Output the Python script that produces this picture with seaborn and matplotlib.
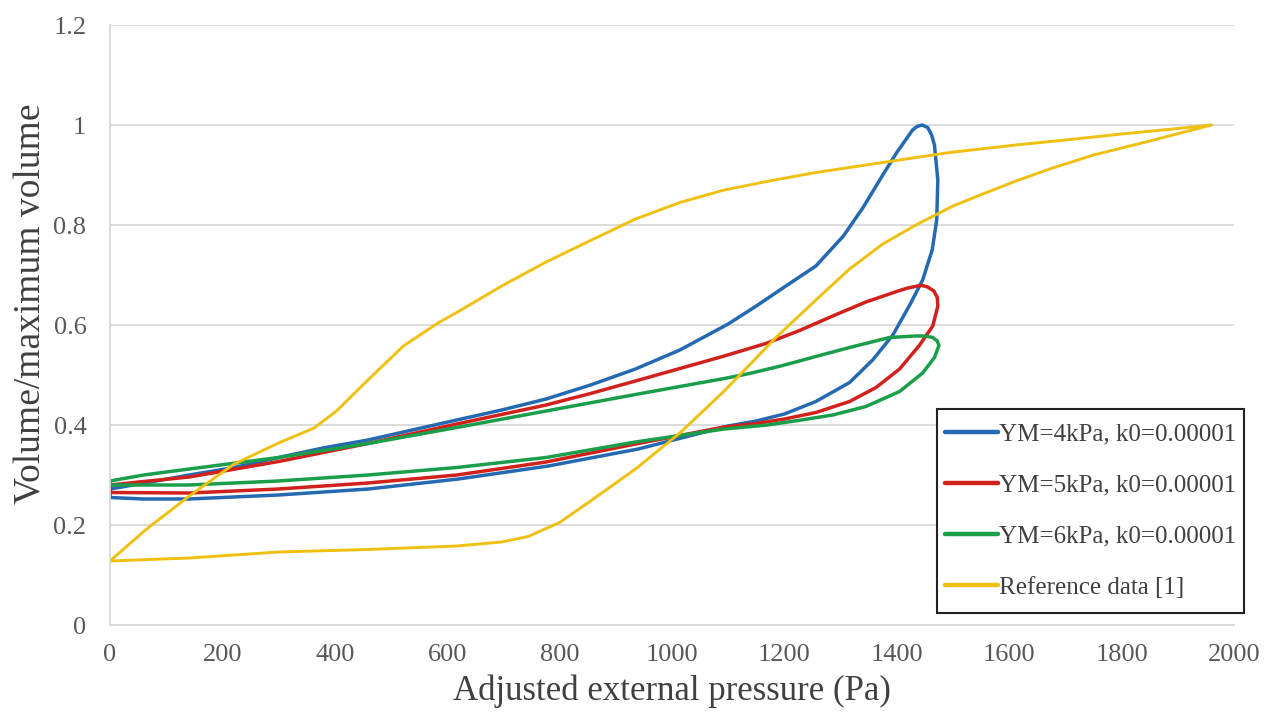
import numpy as np
import pandas as pd
import matplotlib
matplotlib.use("Agg")
import matplotlib.pyplot as plt
from matplotlib.patches import Rectangle
import seaborn as sns

# Pressure-volume loops (closed paths, listed in drawing order)
ym4_pressure = [0, 60, 140, 300, 460, 620, 780, 940, 1020, 1100, 1150, 1200, 1256, 1316, 1357,
                1393, 1423, 1446, 1463, 1471, 1473, 1467, 1462, 1455, 1445, 1436, 1428, 1400,
                1375, 1340, 1305, 1256, 1200, 1150, 1100, 1014, 935, 855, 776, 697, 617, 538,
                459, 379, 300, 221, 141, 62, 0, 0]
ym4_volume = [0.255, 0.252, 0.252, 0.260, 0.272, 0.292, 0.318, 0.352, 0.375, 0.398, 0.408, 0.422,
              0.447, 0.485, 0.530, 0.580, 0.640, 0.690, 0.750, 0.810, 0.890, 0.960, 0.980, 0.995,
              1.000, 0.997, 0.990, 0.945, 0.900, 0.835, 0.778, 0.718, 0.676, 0.638, 0.602, 0.550,
              0.512, 0.480, 0.452, 0.430, 0.410, 0.390, 0.370, 0.354, 0.335, 0.315, 0.300, 0.284,
              0.272, 0.255]

ym5_pressure = [0, 141, 300, 459, 617, 776, 935, 1093, 1150, 1200, 1256, 1316, 1363, 1405, 1440,
                1464, 1473, 1472, 1466, 1455, 1445, 1437, 1420, 1405, 1345, 1286, 1227, 1167,
                1093, 1014, 935, 855, 776, 617, 459, 300, 141, 60, 0, 0]
ym5_volume = [0.265, 0.264, 0.272, 0.284, 0.300, 0.326, 0.362, 0.396, 0.403, 0.412, 0.425, 0.447,
              0.475, 0.512, 0.559, 0.598, 0.638, 0.655, 0.668, 0.676, 0.679, 0.678, 0.674, 0.669,
              0.646, 0.618, 0.589, 0.563, 0.538, 0.513, 0.488, 0.463, 0.440, 0.402, 0.363, 0.327,
              0.296, 0.287, 0.280, 0.265]

ym6_pressure = [0, 141, 300, 459, 617, 776, 935, 1093, 1170, 1230, 1286, 1345, 1405, 1446, 1467,
                1475, 1472, 1464, 1450, 1434, 1387, 1316, 1256, 1197, 1138, 1093, 935, 776, 617,
                459, 300, 141, 60, 0, 0]
ym6_volume = [0.280, 0.280, 0.288, 0.300, 0.315, 0.335, 0.366, 0.392, 0.400, 0.410, 0.420, 0.437,
              0.467, 0.504, 0.535, 0.559, 0.568, 0.575, 0.578, 0.578, 0.575, 0.555, 0.537, 0.519,
              0.503, 0.493, 0.461, 0.428, 0.395, 0.363, 0.335, 0.312, 0.300, 0.288, 0.280]

ref_pressure = [0, 141, 300, 459, 617, 697, 744, 800, 855, 935, 1014, 1093, 1185, 1256, 1316,
                1375, 1434, 1500, 1553, 1612, 1672, 1750, 1850, 1960, 1900, 1800, 1700, 1612,
                1494, 1375, 1256, 1173, 1093, 1014, 935, 855, 776, 697, 617, 585, 522, 459, 403,
                363, 300, 221, 141, 62, 0]
ref_volume = [0.128, 0.134, 0.146, 0.151, 0.158, 0.166, 0.177, 0.205, 0.248, 0.312, 0.384, 0.468,
              0.575, 0.650, 0.712, 0.762, 0.800, 0.838, 0.862, 0.888, 0.912, 0.940, 0.968, 1.000,
              0.993, 0.982, 0.970, 0.960, 0.945, 0.925, 0.905, 0.888, 0.870, 0.845, 0.812, 0.769,
              0.726, 0.678, 0.625, 0.605, 0.558, 0.490, 0.428, 0.394, 0.364, 0.322, 0.258, 0.189,
              0.128]

series_names = ["YM=4kPa, k0=0.00001", "YM=5kPa, k0=0.00001",
                "YM=6kPa, k0=0.00001", "Reference data [1]"]
series_colors = ["#2469B2", "#D0211C", "#1A9E4A", "#F0C010"]

x_ticks = [0, 200, 400, 600, 800, 1000, 1200, 1400, 1600, 1800, 2000]
y_ticks = [0, 0.2, 0.4, 0.6, 0.8, 1.0, 1.2]
y_tick_labels = ["0", "0.2", "0.4", "0.6", "0.8", "1", "1.2"]

frames = []
for name, xs, ys in zip(series_names,
                        [ym4_pressure, ym5_pressure, ym6_pressure, ref_pressure],
                        [ym4_volume, ym5_volume, ym6_volume, ref_volume]):
    frames.append(pd.DataFrame({"pressure": xs, "volume": ys, "series": name}))
df = pd.concat(frames, ignore_index=True)

sns.set_theme(style="white")
plt.rcParams["font.family"] = ["Liberation Serif", "DejaVu Serif"]

W, H = 1276, 717
fig = plt.figure(figsize=(W / 100, H / 100), dpi=100)
ax = fig.add_axes([110 / W, 1 - 625 / H, (1234 - 110) / W, (625 - 25) / H])

grid_col = "#D9D9D9"
ax.set_axisbelow(True)
ax.yaxis.grid(True, color=grid_col, linewidth=1.3)
ax.xaxis.grid(False)

for name, col in zip(series_names, series_colors):
    sub = df[df["series"] == name]
    lw = 2.1 if name.startswith("Reference") else 2.5
    sns.lineplot(data=sub, x="pressure", y="volume", sort=False, estimator=None,
                 color=col, linewidth=lw, label=name, ax=ax,
                 solid_capstyle="round", solid_joinstyle="round")

ax.set_xlim(0, 2000)
ax.set_ylim(0, 1.2)
ax.set_xticks(x_ticks)
ax.set_xticklabels([str(t) for t in x_ticks])
ax.set_yticks(y_ticks)
ax.set_yticklabels(y_tick_labels)
ax.tick_params(axis="x", length=0, pad=14, labelsize=19, labelcolor="#595959")
ax.tick_params(axis="y", length=0, pad=17, labelsize=19, labelcolor="#595959")

for side in ["top", "right"]:
    ax.spines[side].set_visible(False)
for side in ["left", "bottom"]:
    ax.spines[side].set_color(grid_col)
    ax.spines[side].set_linewidth(1.3)

ax.set_xlabel("Adjusted external pressure (Pa)", fontsize=25, color="#404040", labelpad=6)
ax.set_ylabel("Volume/maximum volume", fontsize=27, color="#404040")
ax.yaxis.set_label_coords(-0.055, 0.535)

# legend: plain rectangular frame in figure pixels, entries centred inside it
handles, labels = ax.get_legend_handles_labels()
ax.get_legend().remove()
box_l, box_r, box_t, box_b = 937, 1244, 409, 613
frame = Rectangle((box_l / W, 1 - box_b / H), (box_r - box_l) / W, (box_b - box_t) / H,
                  transform=fig.transFigure, facecolor="white", edgecolor="#222222",
                  linewidth=1.5, zorder=4)
fig.patches.append(frame)
leg = fig.legend(handles, labels, loc="center",
                 bbox_to_anchor=((box_l + box_r) / 2 / W, 1 - (box_t + box_b) / 2 / H),
                 bbox_transform=fig.transFigure, frameon=False, fontsize=18,
                 labelspacing=1.15, handlelength=2.1, handletextpad=0.05,
                 borderpad=0, borderaxespad=0)
leg.set_zorder(6)
for line in leg.get_lines():
    line.set_linewidth(3.2)
for txt in leg.get_texts():
    txt.set_color("#404040")

fig.savefig("out.png", dpi=100)
